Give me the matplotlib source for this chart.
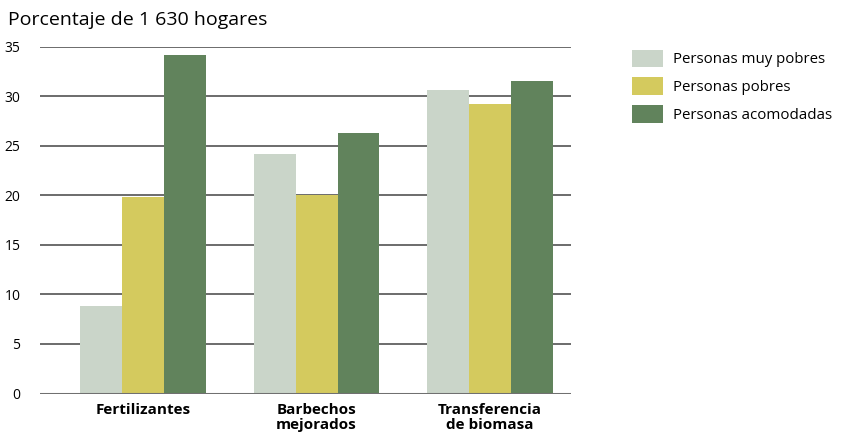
import matplotlib.pyplot as plt
import numpy as np

# ===================== DATA =====================
categories = ["Fertilizantes", "Barbechos\nmejorados", "Transferencia\nde biomasa"]
series_names = ["Personas muy pobres", "Personas pobres", "Personas acomodadas"]
muy_pobres = [8.8, 24.2, 30.6]
pobres = [19.8, 20.0, 29.2]
acomodadas = [34.1, 26.3, 31.5]
yticks = [0, 5, 10, 15, 20, 25, 30, 35]

colors = ["#cad5c9", "#d4ca5e", "#61835c"]

plt.rcParams['font.family'] = ['Open Sans', 'DejaVu Sans']

# ===================== FIGURE =====================
fig = plt.figure(figsize=(8.44, 4.34), dpi=100)
ax = fig.add_axes([40 / 844, 1 - 393.5 / 434, 531 / 844, (393.5 - 46.5) / 434])

x = np.arange(len(categories))
w = 0.242
for i, (vals, name) in enumerate(zip([muy_pobres, pobres, acomodadas], series_names)):
    ax.bar(x + (i - 1) * w, vals, width=w, color=colors[i], label=name, zorder=2)

# gridlines
for t in yticks:
    if t == 0:
        ax.axhline(t, color="#707070", lw=2.2, zorder=3)
    else:
        ax.axhline(t, color="#444444", lw=1.1, zorder=1)

ax.set_xlim(-0.594, 2.467)
ax.set_ylim(0, 35)
ax.set_yticks(yticks)
ax.set_yticklabels([str(t) for t in yticks], fontsize=10)
ax.tick_params(axis="y", length=0, pad=14)
ax.set_xticks(x)
ax.set_xticklabels(categories, fontsize=11, fontweight="bold", linespacing=1.1)
ax.tick_params(axis="x", length=0, pad=7)
for s in ax.spines.values():
    s.set_visible(False)

fig.text(8 / 844, 1 - 20 / 434, "Porcentaje de 1 630 hogares", fontsize=14,
         va="center", ha="left")

fig.legend(loc="upper left", bbox_to_anchor=(618 / 844, 1 - 36 / 434),
           frameon=False, fontsize=10.8, handlelength=2.07, handleheight=1.45,
           labelspacing=0.65, handletextpad=0.7)

fig.savefig("out.png", dpi=100)
